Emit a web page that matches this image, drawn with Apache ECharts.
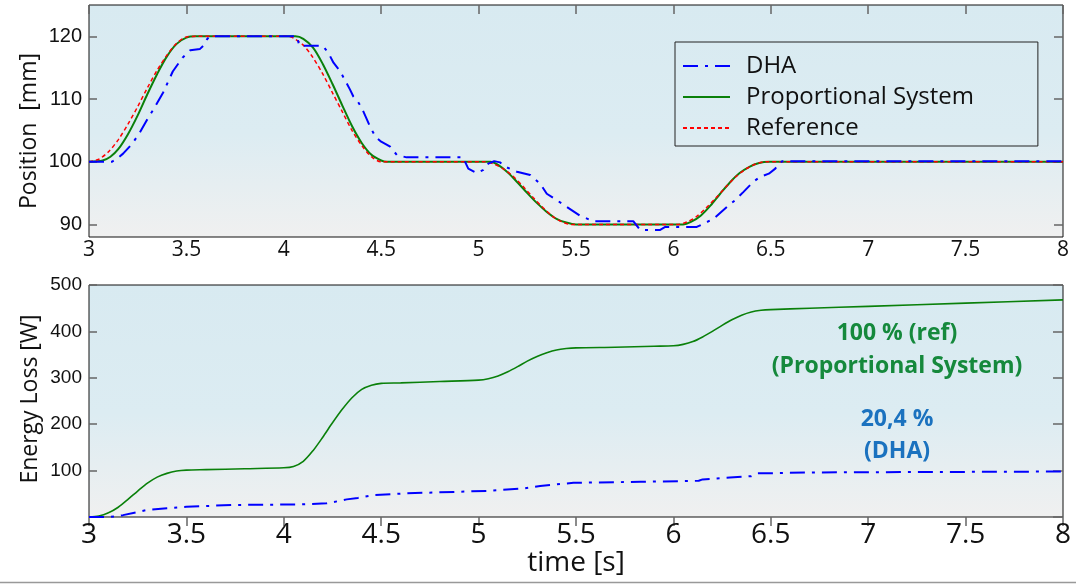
<!DOCTYPE html>
<html lang="en">
<head>
<meta charset="UTF-8">
<title>Position and energy loss</title>
<style>
  html, body { margin: 0; padding: 0; background: #fff; }
  #main { width: 1076px; height: 584px; }
</style>
<script src="https://cdn.jsdelivr.net/npm/echarts@6/dist/echarts.min.js"></script>
</head>
<body>
<div id="main"></div>
<script>
// position [mm] over time [s]
const posRef = [
  [3.0, 100], [3.05, 100.4], [3.1, 101.6], [3.15, 103.5], [3.2, 106], [3.25, 108.8], [3.3, 111.8],
  [3.35, 114.6], [3.4, 117], [3.45, 118.9], [3.5, 119.9], [3.55, 120], [4.02, 120], [4.05, 119.7],
  [4.1, 118.6], [4.15, 116.6], [4.2, 114], [4.25, 111], [4.3, 108], [4.35, 105], [4.4, 102.6],
  [4.45, 100.8], [4.5, 100], [5.03, 100], [5.08, 99.6], [5.13, 98.8], [5.18, 97.6], [5.23, 96],
  [5.28, 94.3], [5.33, 92.7], [5.38, 91.3], [5.43, 90.4], [5.48, 90], [6.02, 90], [6.07, 90.4],
  [6.12, 91.3], [6.17, 92.7], [6.22, 94.3], [6.27, 96], [6.32, 97.6], [6.37, 98.8], [6.42, 99.6],
  [6.47, 100], [8.0, 100]
];
const posProp = [
  [3.0, 100], [3.07, 100.2], [3.11, 100.8], [3.15, 102], [3.2, 104.4], [3.25, 107.4], [3.3, 110.8],
  [3.35, 114], [3.4, 116.8], [3.45, 118.8], [3.5, 119.8], [3.55, 120], [4.06, 120], [4.1, 119.6],
  [4.15, 118.2], [4.2, 115.6], [4.25, 112.4], [4.3, 109], [4.35, 105.7], [4.4, 103], [4.45, 101.1],
  [4.5, 100.2], [4.53, 100], [5.06, 100], [5.1, 99.5], [5.15, 98.3], [5.2, 96.7], [5.25, 95],
  [5.3, 93.4], [5.35, 92], [5.4, 90.9], [5.45, 90.3], [5.5, 90], [6.05, 90], [6.09, 90.4],
  [6.14, 91.4], [6.19, 93], [6.24, 94.9], [6.29, 96.7], [6.34, 98.2], [6.39, 99.2], [6.44, 99.8],
  [6.49, 100], [8.0, 100]
];
const posDha = [
  [3.0, 100], [3.117, 100], [3.14, 100.4], [3.175, 101.3], [3.22, 102.8], [3.26, 104.6], [3.3, 106.8],
  [3.33, 108.3], [3.38, 111], [3.43, 114.4], [3.48, 116.6], [3.52, 117.8], [3.57, 118], [3.59, 118.6],
  [3.605, 119.5], [3.62, 120], [4.067, 120], [4.08, 118.5], [4.2, 118.5], [4.23, 117.3], [4.255, 115.8],
  [4.29, 114.4], [4.34, 111.5], [4.357, 110.4], [4.38, 109.6], [4.4, 108.6], [4.443, 105.6], [4.47, 104],
  [4.5, 103.2], [4.546, 102.4], [4.58, 101.1], [4.63, 100.7], [4.92, 100.7], [4.947, 98.9], [4.99, 98.2],
  [5.025, 98.7], [5.05, 99.7], [5.08, 100.1], [5.11, 99.9], [5.137, 99.2], [5.197, 98.4], [5.265, 97.9],
  [5.316, 96.5], [5.35, 94.9], [5.4, 93.9], [5.453, 92.8], [5.52, 91.4], [5.59, 90.5], [5.795, 90.5],
  [5.83, 89.1], [5.93, 89.1], [5.958, 89.6], [6.12, 89.6], [6.16, 90.2], [6.206, 90.9], [6.275, 92.8],
  [6.318, 93.9], [6.36, 95.2], [6.41, 96.8], [6.446, 97.6], [6.49, 98.1], [6.523, 98.9], [6.54, 99.7],
  [6.56, 100.1], [8.0, 100.1]
];

// energy loss [W] over time [s]
const lossProp = [
  [3.0, 0], [3.05, 2], [3.1, 9], [3.15, 21], [3.2, 38], [3.25, 56], [3.3, 73], [3.35, 86], [3.4, 94],
  [3.45, 99], [3.5, 101], [3.6, 102], [3.8, 104], [4.0, 106], [4.05, 109], [4.1, 120], [4.15, 143],
  [4.2, 172], [4.25, 203], [4.3, 232], [4.35, 257], [4.4, 275], [4.45, 284], [4.5, 288], [4.6, 289],
  [4.8, 292], [5.0, 295], [5.05, 298], [5.1, 304], [5.15, 313], [5.2, 324], [5.25, 336], [5.3, 346],
  [5.35, 354], [5.4, 360], [5.45, 363], [5.5, 364.5], [5.7, 366], [5.9, 368], [6.0, 369], [6.05, 372],
  [6.1, 378], [6.15, 388], [6.2, 400], [6.25, 413], [6.3, 425], [6.35, 435], [6.4, 442], [6.45, 445.5],
  [6.5, 447], [6.7, 450], [7.0, 454], [7.5, 461], [8.0, 468]
];
const lossDha = [
  [3.0, 0], [3.108, 0], [3.175, 4], [3.24, 10], [3.296, 15], [3.4, 19], [3.5, 22], [3.74, 26],
  [4.08, 27], [4.22, 29.5], [4.29, 35], [4.323, 38], [4.38, 41], [4.46, 47], [4.63, 51], [5.06, 56.5],
  [5.23, 61.6], [5.316, 67], [5.487, 73.6], [5.83, 75.8], [6.13, 78], [6.15, 81], [6.29, 85],
  [6.4, 88], [6.43, 94], [6.72, 96], [7.97, 98], [8.0, 98]
];

const posTicks = [90, 100, 110, 120];
const legendNames = ['DHA', 'Proportional System', 'Reference'];
const notes = ['100 % (ref)', '(Proportional System)', '20,4 %', '(DHA)'];

const BLUE = '#0000ff', GREEN = '#0a800a', RED = '#ff0000';
const dashDot = [15, 7, 3, 7];

var chart = echarts.init(document.getElementById('main'));

function plotBg() {
  return new echarts.graphic.LinearGradient(0, 0, 0, 1, [
    { offset: 0, color: '#d8eaf1' },
    { offset: 0.55, color: '#dcecf2' },
    { offset: 1, color: '#f0f0f0' }
  ]);
}

function xAx(grid, top, size, margin) {
  return {
    gridIndex: grid, type: 'value', min: 3, max: 8, interval: 0.5,
    position: top ? 'top' : 'bottom',
    axisLine: { show: false },
    splitLine: { show: false },
    axisTick: top ? { show: true, inside: true, length: 9, lineStyle: { color: '#666', width: 1.5 } } : { show: false },
    axisLabel: top ? { show: false } : { fontFamily: 'Open Sans', fontSize: size, color: '#111', margin: margin }
  };
}

var tickStyle = { color: '#666', width: 1.5 };

var option = {
  animation: false,
  grid: [
    { left: 89, top: 5, width: 974, height: 232, show: true, borderColor: '#111', borderWidth: 1, backgroundColor: plotBg() },
    { left: 89, top: 285, width: 974, height: 232, show: true, borderColor: '#111', borderWidth: 1, backgroundColor: plotBg() }
  ],
  xAxis: [
    xAx(0, false, 21, 3), xAx(0, true),
    xAx(1, false, 28, 4), xAx(1, true)
  ],
  yAxis: [
    {
      gridIndex: 0, type: 'value', min: 88, max: 125, splitNumber: 4,
      axisLine: { show: false }, splitLine: { show: false },
      axisTick: { inside: true, length: 8, customValues: posTicks, lineStyle: tickStyle },
      axisLabel: { customValues: posTicks, fontFamily: 'Liberation Sans', fontSize: 20, color: '#111', margin: 7 }
    },
    {
      gridIndex: 0, type: 'value', min: 88, max: 125, splitNumber: 4, position: 'right',
      axisLine: { show: false }, splitLine: { show: false },
      axisTick: { inside: true, length: 9, customValues: posTicks, lineStyle: tickStyle },
      axisLabel: { show: false }
    },
    {
      gridIndex: 1, type: 'value', min: 0, max: 500, interval: 100,
      axisLine: { show: false }, splitLine: { show: false },
      axisTick: { inside: true, length: 8, lineStyle: tickStyle },
      axisLabel: { showMinLabel: false, fontFamily: 'Liberation Sans', fontSize: 19, color: '#111', margin: 7 }
    },
    {
      gridIndex: 1, type: 'value', min: 0, max: 500, interval: 100, position: 'right',
      axisLine: { show: false }, splitLine: { show: false },
      axisTick: { inside: true, length: 10, lineStyle: tickStyle },
      axisLabel: { show: false }
    }
  ],
  legend: {
    data: legendNames,
    orient: 'vertical',
    left: 675, top: 42,
    padding: [12, 64, 6, 7],
    itemGap: 7,
    itemWidth: 47, itemHeight: 14,
    itemStyle: { opacity: 0 },
    borderColor: '#222', borderWidth: 1,
    textStyle: { fontFamily: 'Open Sans', fontSize: 24, color: '#111', padding: [0, 0, 0, 11] }
  },
  series: [
    { name: 'Proportional System', type: 'line', xAxisIndex: 0, yAxisIndex: 0, data: posProp,
      symbol: 'none', smooth: 0.3, lineStyle: { color: GREEN, width: 2 }, itemStyle: { color: GREEN } },
    { name: 'Reference', type: 'line', xAxisIndex: 0, yAxisIndex: 0, data: posRef,
      symbol: 'none', smooth: 0.3, lineStyle: { color: RED, width: 1.5, type: [4, 3] }, itemStyle: { color: RED } },
    { name: 'DHA', type: 'line', xAxisIndex: 0, yAxisIndex: 0, data: posDha,
      symbol: 'none', lineStyle: { color: BLUE, width: 2, type: dashDot }, itemStyle: { color: BLUE } },
    { name: 'Proportional loss', type: 'line', xAxisIndex: 2, yAxisIndex: 2, data: lossProp,
      symbol: 'none', smooth: 0.3, lineStyle: { color: GREEN, width: 1.6 } },
    { name: 'DHA loss', type: 'line', xAxisIndex: 2, yAxisIndex: 2, data: lossDha,
      symbol: 'none', lineStyle: { color: BLUE, width: 2, type: dashDot } }
  ],
  graphic: [
    { type: 'text', x: 29, y: 131, rotation: Math.PI / 2,
      style: { text: 'Position  [mm]', fontFamily: 'Open Sans', fontSize: 23, fill: '#111', align: 'center', verticalAlign: 'middle' } },
    { type: 'text', x: 30, y: 399, rotation: Math.PI / 2,
      style: { text: 'Energy Loss [W]', fontFamily: 'Open Sans', fontSize: 23, fill: '#111', align: 'center', verticalAlign: 'middle' } },
    { type: 'text', x: 576, y: 563,
      style: { text: 'time [s]', fontFamily: 'Open Sans', fontSize: 28, fill: '#111', align: 'center', verticalAlign: 'middle' } },
    { type: 'text', x: 897, y: 333,
      style: { text: notes[0], fontFamily: 'Open Sans', fontWeight: 'bold', fontSize: 23, fill: '#15893c', align: 'center', verticalAlign: 'middle' } },
    { type: 'text', x: 897, y: 366,
      style: { text: notes[1], fontFamily: 'Open Sans', fontWeight: 'bold', fontSize: 23, fill: '#15893c', align: 'center', verticalAlign: 'middle' } },
    { type: 'text', x: 897, y: 419,
      style: { text: notes[2], fontFamily: 'Open Sans', fontWeight: 'bold', fontSize: 23, fill: '#1b72bf', align: 'center', verticalAlign: 'middle' } },
    { type: 'text', x: 897, y: 451,
      style: { text: notes[3], fontFamily: 'Open Sans', fontWeight: 'bold', fontSize: 23, fill: '#1b72bf', align: 'center', verticalAlign: 'middle' } },
    { type: 'line', shape: { x1: 0, y1: 582.5, x2: 1076, y2: 582.5 }, style: { stroke: '#999', lineWidth: 1.5 } }
  ]
};

chart.setOption(option);
</script>
</body>
</html>
